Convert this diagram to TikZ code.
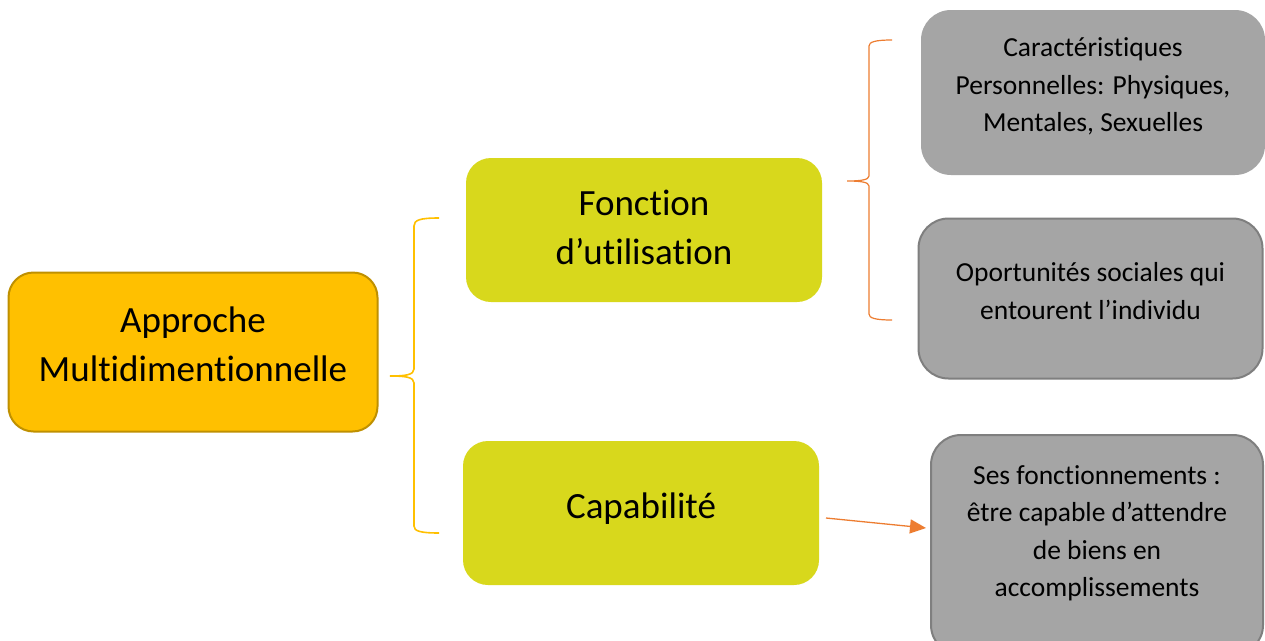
\documentclass[tikz,border=0pt]{standalone}
\usepackage{fontspec}
\setmainfont{Carlito}[Ligatures={NoCommon,NoContextual,NoRare}, Contextuals=NoAlternate]
\usetikzlibrary{arrows.meta}
\definecolor{goldfill}{HTML}{FFC000}
\definecolor{golddraw}{HTML}{BF9000}
\definecolor{limefill}{HTML}{D8D81C}
\definecolor{grayfill}{HTML}{A5A5A5}
\definecolor{graydraw}{HTML}{7F7F7F}
\definecolor{orangeline}{HTML}{ED7D31}
\definecolor{yellowline}{HTML}{FFC000}
\tikzset{
  bigtext/.style={font=\fontsize{37}{49}\selectfont, align=center, inner sep=0pt},
  smalltext/.style={font=\fontsize{27.5}{37.5}\selectfont, align=center, inner sep=0pt},
  rootbox/.style={rectangle, rounded corners=25pt, fill=goldfill, draw=golddraw, line width=2pt, inner sep=0pt},
  midbox/.style={rectangle, rounded corners=25pt, fill=limefill, inner sep=0pt},
  leafbox/.style={rectangle, rounded corners=30pt, fill=grayfill, inner sep=0pt},
  leafborder/.style={leafbox, draw=graydraw, line width=2pt},
  bracey/.style={draw=yellowline, line width=1.6pt},
  braceo/.style={draw=orangeline, line width=1.2pt},
  arr/.style={draw=orangeline, line width=1.3pt, -{Triangle[length=16pt,width=14pt]}}
}
\begin{document}
\begin{tikzpicture}[x=1pt,y=-1pt]
\useasboundingbox (0,0) rectangle (1265,640);
\clip (0,0) rectangle (1265,640);
\fill[white] (0,0) rectangle (1265,640);

% root
\node[rootbox, minimum width=369pt, minimum height=159pt] (root) at (193,352) {};
\node[bigtext] (roott) at (193,344) {Approche\\Multidimentionnelle};

% middle
\node[midbox, minimum width=356pt, minimum height=144pt] (fonc) at (644,230) {};
\node[bigtext] (fonct) at (644,227) {Fonction\\d’utilisation};
\node[midbox, minimum width=356pt, minimum height=144pt] (cap) at (641,513) {};
\node[bigtext] (capt) at (641,509) {Capabilité};

% leaves
\node[leafbox, minimum width=344pt, minimum height=165pt] (g1) at (1093,92.5) {};
\node[smalltext] (g1t) at (1093,86.5) {Caractéristiques\\Personnelles: Physiques,\\Mentales, Sexuelles};
\node[leafborder, minimum width=344pt, minimum height=160pt] (g2) at (1090.5,298.5) {};
\node[smalltext] (g2t) at (1090.5,291) {Oportunités sociales qui\\entourent l’individu};
\node[leafborder, minimum width=332pt, minimum height=220pt] (g3) at (1097,545) {};
\node[smalltext] (g3t) at (1097,533)
  {Ses fonctionnements :\\être capable d’attendre\\de biens en\\accomplissements};

% brace yellow
\coordinate (by1) at (439,218);
\coordinate (byt) at (390,376);
\coordinate (by2) at (439,533);
\draw[bracey] (by1) .. controls (420,218) and (414,220) .. (414,226)
  -- (414,369) .. controls (414,375) and (405,376) .. (byt)
  .. controls (405,376) and (414,377) .. (414,383)
  -- (414,526) .. controls (414,531) and (420,533) .. (by2);

% brace orange
\coordinate (bo1) at (892,40);
\coordinate (bot) at (847,181);
\coordinate (bo2) at (892,320);
\draw[braceo] (bo1) .. controls (875,40) and (869,42) .. (869,46)
  -- (869,176) .. controls (869,180) and (860,181) .. (bot)
  .. controls (860,181) and (869,182) .. (869,186)
  -- (869,314) .. controls (869,318) and (875,320) .. (bo2);

% arrow
\coordinate (a1) at (826,518);
\coordinate (a2) at (926,528);
\draw[arr] (a1) -- (a2);
\end{tikzpicture}
\end{document}
